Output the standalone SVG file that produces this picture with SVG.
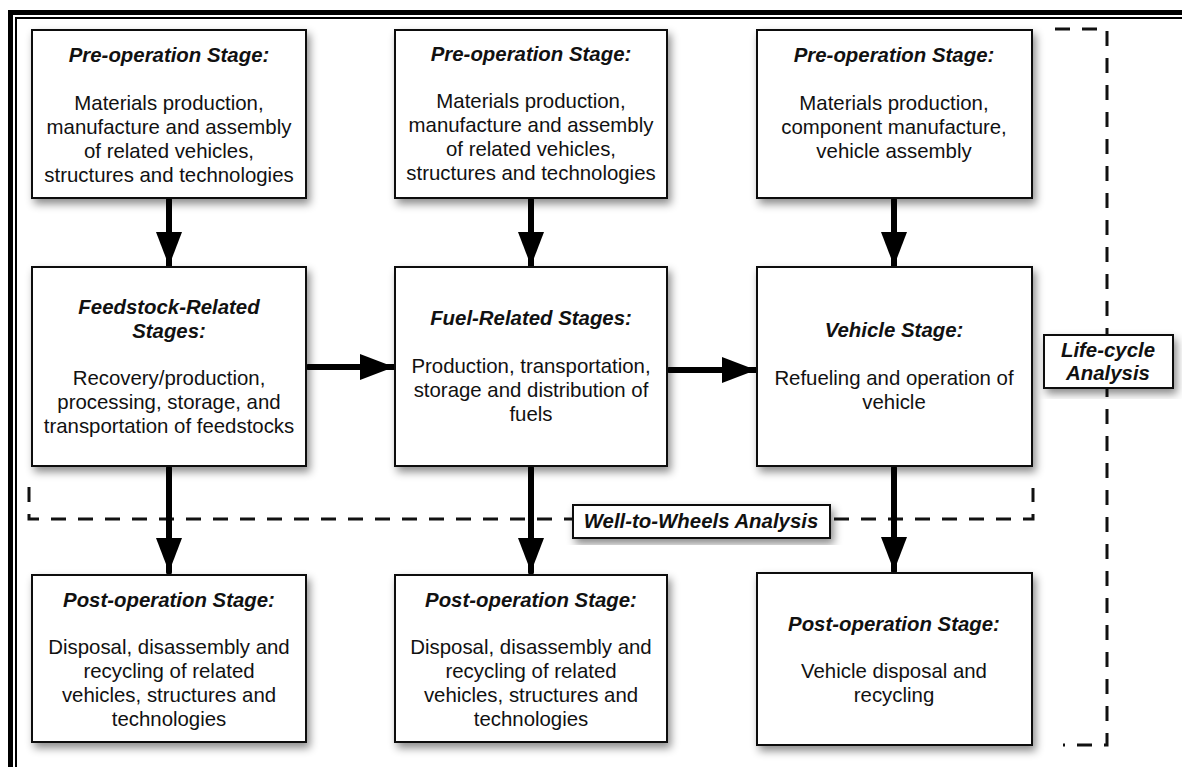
<svg xmlns="http://www.w3.org/2000/svg" width="1182" height="767" viewBox="0 0 1182 767">
  <style>
    .box { fill: #ffffff; stroke: #111111; stroke-width: 2; filter: url(#shadow); }
    .label { fill: #ffffff; stroke: #111111; stroke-width: 2; filter: url(#shadow); }
    .title { font-family: "Liberation Sans", Arial, sans-serif; font-size: 20.4px; font-weight: bold; font-style: italic; fill: #111111; text-anchor: middle; }
    .body { font-family: "Liberation Sans", Arial, sans-serif; font-size: 20.4px; fill: #111111; text-anchor: middle; }
    .arrow { stroke: #000000; stroke-width: 6; stroke-linecap: round; fill: none; marker-end: url(#head); }
    .dash { stroke: #111111; stroke-width: 3; fill: none; stroke-dasharray: 15 12; }
  </style>
  <defs>
    <filter id="shadow" x="-10%" y="-10%" width="125%" height="130%">
      <feDropShadow dx="3" dy="5" stdDeviation="4" flood-color="#000000" flood-opacity="0.45"/>
    </filter>
    <marker id="head" markerUnits="userSpaceOnUse" markerWidth="36" markerHeight="28" refX="34" refY="13" orient="auto">
      <path d="M0,0 L34,13 L0,26 z" fill="#000000"/>
    </marker>
  </defs>

  <rect width="1182" height="767" fill="#ffffff"/>

  <!-- double page frame -->
  <g id="frame" fill="none" stroke="#000000">
    <rect x="10.5" y="12.5" width="1200" height="800" stroke-width="5"/>
    <rect x="16" y="18" width="1190" height="790" stroke-width="2"/>
  </g>

  <!-- analysis boundaries -->
  <g id="boundaries">
    <path class="dash" d="M29,487 V519 H1033 V488"/>
    <path class="dash" d="M1055,29 H1107 V745 H1063"/>
  </g>

  <!-- connectors -->
  <g id="connectors">
    <line class="arrow" x1="169" y1="200" x2="169" y2="266"/>
    <line class="arrow" x1="531" y1="200" x2="531" y2="266"/>
    <line class="arrow" x1="894" y1="200" x2="894" y2="266"/>
    <line class="arrow" x1="169" y1="468" x2="169" y2="572"/>
    <line class="arrow" x1="531" y1="468" x2="531" y2="572"/>
    <line class="arrow" x1="894" y1="468" x2="894" y2="571"/>
    <line class="arrow" x1="308" y1="367" x2="394" y2="367"/>
    <line class="arrow" x1="669" y1="370" x2="756" y2="370"/>
  </g>

  <!-- row 1 -->
  <g id="pre-op-feedstock">
    <rect class="box" x="32" y="30" width="274" height="168"/>
    <text class="title" x="169" y="62">Pre-operation Stage:</text>
    <text class="body" x="169" y="110">Materials production,</text>
    <text class="body" x="169" y="134">manufacture and assembly</text>
    <text class="body" x="169" y="158">of related vehicles,</text>
    <text class="body" x="169" y="182">structures and technologies</text>
  </g>
  <g id="pre-op-fuel">
    <rect class="box" x="395" y="30" width="272" height="168"/>
    <text class="title" x="531" y="61">Pre-operation Stage:</text>
    <text class="body" x="531" y="108">Materials production,</text>
    <text class="body" x="531" y="132">manufacture and assembly</text>
    <text class="body" x="531" y="156">of related vehicles,</text>
    <text class="body" x="531" y="180">structures and technologies</text>
  </g>
  <g id="pre-op-vehicle">
    <rect class="box" x="757" y="30" width="275" height="168"/>
    <text class="title" x="894" y="62">Pre-operation Stage:</text>
    <text class="body" x="894" y="110">Materials production,</text>
    <text class="body" x="894" y="134">component manufacture,</text>
    <text class="body" x="894" y="158">vehicle assembly</text>
  </g>

  <!-- row 2 -->
  <g id="feedstock">
    <rect class="box" x="32" y="267" width="274" height="199"/>
    <text class="title" x="169" y="314">Feedstock-Related</text>
    <text class="title" x="169" y="338">Stages:</text>
    <text class="body" x="169" y="385">Recovery/production,</text>
    <text class="body" x="169" y="409">processing, storage, and</text>
    <text class="body" x="169" y="433">transportation of feedstocks</text>
  </g>
  <g id="fuel">
    <rect class="box" x="395" y="267" width="272" height="199"/>
    <text class="title" x="531" y="325">Fuel-Related Stages:</text>
    <text class="body" x="531" y="373">Production, transportation,</text>
    <text class="body" x="531" y="397">storage and distribution of</text>
    <text class="body" x="531" y="421">fuels</text>
  </g>
  <g id="vehicle">
    <rect class="box" x="757" y="267" width="275" height="199"/>
    <text class="title" x="894" y="337">Vehicle Stage:</text>
    <text class="body" x="894" y="385">Refueling and operation of</text>
    <text class="body" x="894" y="409">vehicle</text>
  </g>

  <!-- row 3 -->
  <g id="post-op-feedstock">
    <rect class="box" x="32" y="575" width="274" height="167"/>
    <text class="title" x="169" y="607">Post-operation Stage:</text>
    <text class="body" x="169" y="654">Disposal, disassembly and</text>
    <text class="body" x="169" y="678">recycling of related</text>
    <text class="body" x="169" y="702">vehicles, structures and</text>
    <text class="body" x="169" y="726">technologies</text>
  </g>
  <g id="post-op-fuel">
    <rect class="box" x="395" y="575" width="272" height="167"/>
    <text class="title" x="531" y="607">Post-operation Stage:</text>
    <text class="body" x="531" y="654">Disposal, disassembly and</text>
    <text class="body" x="531" y="678">recycling of related</text>
    <text class="body" x="531" y="702">vehicles, structures and</text>
    <text class="body" x="531" y="726">technologies</text>
  </g>
  <g id="post-op-vehicle">
    <rect class="box" x="757" y="573" width="275" height="172"/>
    <text class="title" x="894" y="631">Post-operation Stage:</text>
    <text class="body" x="894" y="678">Vehicle disposal and</text>
    <text class="body" x="894" y="702">recycling</text>
  </g>

  <!-- boundary labels -->
  <g id="wtw-label">
    <rect class="label" x="573" y="505" width="257" height="33"/>
    <text class="title" x="701" y="528">Well-to-Wheels Analysis</text>
  </g>
  <g id="lca-label">
    <rect class="label" x="1044" y="335" width="129" height="53"/>
    <text class="title" x="1108" y="357">Life-cycle</text>
    <text class="title" x="1108" y="380">Analysis</text>
  </g>
</svg>
